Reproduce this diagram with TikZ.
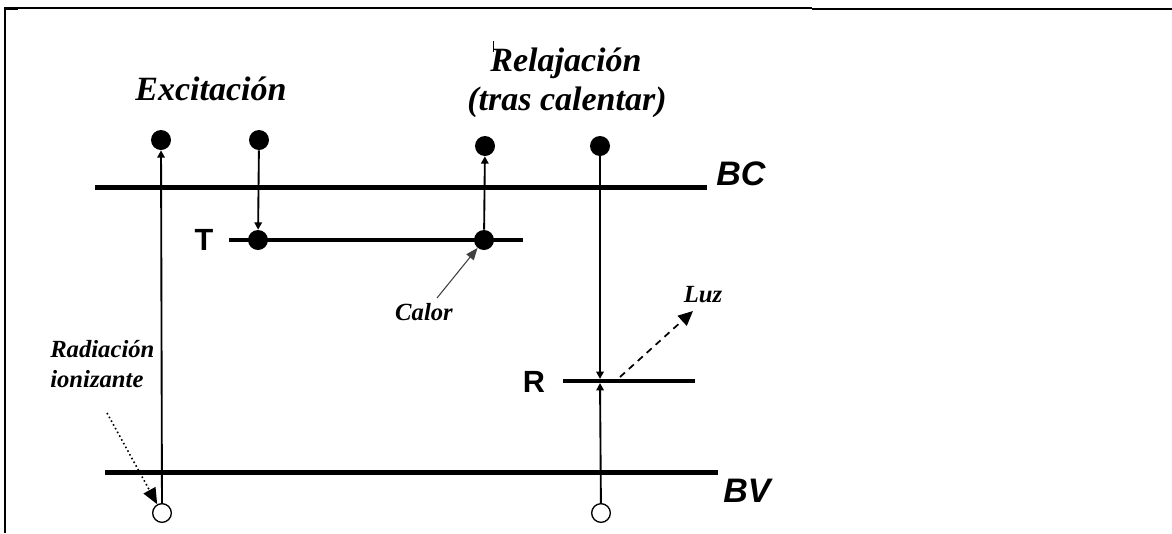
\documentclass[tikz,border=0pt]{standalone}
\usepackage{fontspec}
\setmainfont{Liberation Serif}
\newfontfamily\arialfont{Liberation Sans}
\usetikzlibrary{arrows.meta}
\begin{document}
\begin{tikzpicture}[x=0.75pt,y=-0.75pt,
  lbl/.style={inner sep=0pt, font=\bfseries\itshape\fontsize{25.5}{30}\selectfont},
  smalllbl/.style={inner sep=0pt, font=\bfseries\itshape\fontsize{18.5}{22}\selectfont},
  bandlbl/.style={inner sep=0pt, font=\arialfont\bfseries\itshape\fontsize{25.5}{30}\selectfont},
  lvllbl/.style={inner sep=0pt, font=\arialfont\bfseries\fontsize{23}{28}\selectfont},
  electron/.style={circle, fill=black, inner sep=0pt, minimum size=15pt},
  hole/.style={circle, draw=black, fill=white, line width=1pt, inner sep=0pt, minimum size=14pt},
  bandline/.style={line width=3.75pt},
  levelline/.style={line width=2.8pt},
  trans/.style={line width=1.4pt, -{Triangle[length=5.5pt,width=5.5pt]}},
  frameline/.style={line width=1pt}
]
\fill[white] (0,0) rectangle (1172,533);
\useasboundingbox (0,0) rectangle (1172,533);

% frame
\draw[frameline] (4,8) -- (812,8);
\draw[line width=1.6pt] (812,8.7) -- (1172,8.7);
\draw[line width=1.6pt] (4,9) -- (18,9);
\draw[line width=1.7pt] (5,8) -- (5,533);

% bands and levels
\draw[bandline] (95,187) -- (707,187);
\draw[bandline] (105,472) -- (718,472);
\draw[levelline] (229,240) -- (523,240);
\draw[levelline] (563,381) -- (695,381);
\coordinate (Rc) at (600,381);

% labels
\node[lbl, anchor=base] (exc) at (211,100) {Excitación};
\node[lbl, anchor=base] (rel1) at (566,71) {Relajación};
\node[lbl, anchor=base] (rel2) at (567,110) {(tras calentar)};
\draw[line width=0.6pt] (493,41) -- (493,52);
\node[bandlbl, anchor=base west] (BC) at (716,185) {BC};
\node[bandlbl, anchor=base west] (BV) at (723,502) {BV};
\node[lvllbl, anchor=base] (T) at (204,250) {T};
\node[lvllbl, anchor=base] (R) at (534,392) {R};
\node[smalllbl, anchor=base] (calor) at (424,320) {Calor};
\node[smalllbl, anchor=base] (luz) at (703,302) {Luz};
\node[smalllbl, anchor=base west] (rad1) at (50,357) {Radiación};
\node[smalllbl, anchor=base west] (rad2) at (50,387) {ionizante};

% electrons and holes
\node[electron] (D1) at (161,140) {};
\node[electron] (D2) at (259,140) {};
\node[electron] (D3) at (485,146) {};
\node[electron] (D4) at (600,146) {};
\node[electron] (D5) at (258,240) {};
\node[electron] (D6) at (484,240) {};
\node[hole] (H1) at (162,513) {};
\node[hole] (H2) at (601,513) {};

% transitions
\draw[trans] (H1) -- (D1);
\draw[trans] (D2) -- (D5);
\draw[trans] (D6) -- (D3);
\draw[trans, shorten >=1.5pt] (D4) -- (Rc);
\draw[trans, shorten >=1.5pt] (H2) -- (Rc);

% annotations
\coordinate (calorStart) at (437,298);
\draw[line width=0.8pt, draw=black!75, -{Triangle[length=9pt,width=7pt]}] (calorStart) -- (D6);
\coordinate (radStart) at (107,413);
\draw[line width=1.2pt, dotted, -{Triangle[length=12pt,width=10pt]}] (radStart) -- (H1);
\coordinate (luzStart) at (620,377);
\coordinate (luzEnd) at (693,311);
\draw[line width=1.3pt, dash pattern=on 5pt off 4pt, -{Triangle[length=11pt,width=10pt]}] (luzStart) -- (luzEnd);
\end{tikzpicture}
\end{document}
